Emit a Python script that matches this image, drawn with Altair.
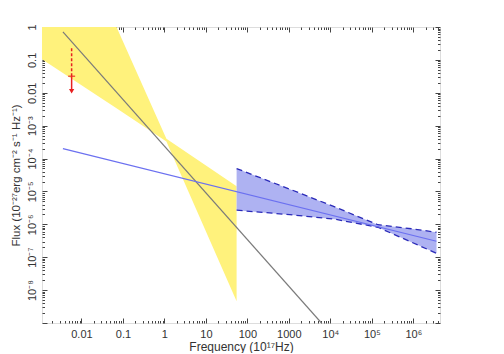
import json
import altair as alt
import pandas as pd

# ---------------- data ----------------
X_DOMAIN = [0.00112, 4.4e6]
Y_DOMAIN = [1e-9, 1.0]

x_label_values = [0.01, 0.1, 1, 10, 100, 1000, 1e4, 1e5, 1e6]
x_labels = ["0.01", "0.1", "1", "10", "100", "1000", "10⁴", "10⁵", "10⁶"]
y_label_values = [1e-8, 1e-7, 1e-6, 1e-5, 1e-4, 1e-3, 0.01, 0.1, 1]
y_labels = ["10⁻⁸", "10⁻⁷", "10⁻⁶", "10⁻⁵", "10⁻⁴", "10⁻³", "0.01", "0.1", "1"]

# yellow bow-tie (upper / lower envelope)
yellow_freq = [0.00112, 0.07, 1.117, 55.0]
yellow_hi = [1.0, 1.0, 4.0e-4, 1.44e-5]
yellow_lo = [0.104, 3.4e-3, 3.3e-4, 4.6e-9]

# blue bow-tie (upper / lower envelope)
blue_freq = [55.0, 1057, 12820, 139600, 906000, 3.62e6]
blue_hi = [4.97e-5, 1.17e-5, 3.38e-6, 9.72e-7, 7.35e-7, 5.75e-7]
blue_lo = [2.69e-6, 1.97e-6, 1.43e-6, 8.16e-7, 2.86e-7, 1.32e-7]

# best-fit power laws
gray_freq = [0.00358, 6100]
gray_flux = [0.714, 1.0e-9]
blueline_freq = [0.00358, 3.62e6]
blueline_flux = [2.01e-4, 3.06e-7]

# red upper limit
ul_freq = [0.0058]
ul_top = [0.225]
ul_bar = [0.0318]
ul_tip = [0.0111]

# ---------------- styling ----------------
W, H = 398, 296
FONT = "Liberation Sans"
TXT = "#333333"

x_major = [10.0 ** k for k in range(-2, 7)]
y_major = [10.0 ** k for k in range(-9, 1)]
x_minor = [m * 10.0 ** k for k in range(-3, 7) for m in range(2, 10)
           if X_DOMAIN[0] <= m * 10.0 ** k <= X_DOMAIN[1]]
y_minor = [m * 10.0 ** k for k in range(-9, 0) for m in range(2, 10)]

xs = alt.Scale(type="log", domain=X_DOMAIN, nice=False)
ys = alt.Scale(type="log", domain=Y_DOMAIN, nice=False)

x_label_axis = alt.Axis(
    orient="bottom", values=x_label_values,
    labelExpr=json.dumps(x_labels, ensure_ascii=False) + "[round(log(datum.value)/LN10)+2]",
    ticks=False, domain=False, grid=False, labelPadding=5, labelFontSize=11,
    labelFont=FONT, labelColor=TXT, labelFlush=False, labelOverlap=False,
    title="Frequency (10¹⁷Hz)", titleFont=FONT, titleFontSize=12,
    titleFontWeight="normal", titleColor=TXT, titlePadding=2)
y_label_axis = alt.Axis(
    orient="left", values=y_label_values,
    labelExpr=json.dumps(y_labels, ensure_ascii=False) + "[round(log(datum.value)/LN10)+8]",
    ticks=False, domain=False, grid=False, labelPadding=5, labelFontSize=11,
    labelAngle=270, labelFont=FONT, labelColor=TXT, labelFlush=False, labelOverlap=False,
    title="Flux (10⁻²⁷erg cm⁻² s⁻¹ Hz⁻¹)", titleFont=FONT, titleFontSize=11.5,
    titleFontWeight="normal", titleColor=TXT, titlePadding=5)


def tick_axis(orient, offset, values, size):
    return alt.Axis(orient=orient, offset=offset, values=values, labels=False,
                    domain=False, grid=False, title="", ticks=True, tickSize=size,
                    tickColor="#444444", tickWidth=1)


# ---------------- layers ----------------
yellow_df = pd.DataFrame({"freq": yellow_freq, "hi": yellow_hi, "lo": yellow_lo})
blue_df = pd.DataFrame({"freq": blue_freq, "hi": blue_hi, "lo": blue_lo})
gray_df = pd.DataFrame({"freq": gray_freq, "flux": gray_flux})
bline_df = pd.DataFrame({"freq": blueline_freq, "flux": blueline_flux})
bound_df = pd.concat([
    pd.DataFrame({"freq": blue_freq, "flux": blue_hi, "edge": "upper"}),
    pd.DataFrame({"freq": blue_freq, "flux": blue_lo, "edge": "lower"}),
])
ul_df = pd.DataFrame({"freq": ul_freq, "top": ul_top, "bar": ul_bar, "tip": ul_tip})

yellow = alt.Chart(yellow_df).mark_area(color="#fff27c", opacity=1, clip=True).encode(
    x=alt.X("freq:Q", scale=xs, axis=x_label_axis),
    y=alt.Y("hi:Q", scale=ys, axis=y_label_axis),
    y2="lo:Q",
)

blue_area = alt.Chart(blue_df).mark_area(color="#aeb2f2", opacity=1, clip=True).encode(
    x=alt.X("freq:Q", scale=xs, axis=tick_axis("top", -H, x_major, 5)),
    y=alt.Y("hi:Q", scale=ys, axis=tick_axis("right", -W, y_major, 5)),
    y2="lo:Q",
)

bounds = alt.Chart(bound_df).mark_line(color="#2a2ab8", strokeWidth=1.3,
                                       strokeDash=[6, 4], clip=True).encode(
    x=alt.X("freq:Q", scale=xs, axis=tick_axis("top", -H, x_minor, 2.5)),
    y=alt.Y("flux:Q", scale=ys, axis=tick_axis("right", -W, y_minor, 2.5)),
    detail="edge:N",
)

gray = alt.Chart(gray_df).mark_line(color="#7a7a7a", strokeWidth=1.2, clip=True).encode(
    x=alt.X("freq:Q", scale=xs, axis=tick_axis("bottom", -H, x_major, 5)),
    y=alt.Y("flux:Q", scale=ys, axis=tick_axis("left", -W, y_major, 5)),
)

bline = alt.Chart(bline_df).mark_line(color="#6b70f0", strokeWidth=1.2, clip=True).encode(
    x=alt.X("freq:Q", scale=xs, axis=tick_axis("bottom", -H, x_minor, 2.5)),
    y=alt.Y("flux:Q", scale=ys, axis=tick_axis("left", -W, y_minor, 2.5)),
)

ul_dash = alt.Chart(ul_df).mark_rule(color="#e82020", strokeWidth=1.5,
                                     strokeDash=[3, 2]).encode(
    x=alt.X("freq:Q", scale=xs, axis=None),
    y=alt.Y("top:Q", scale=ys, axis=None),
    y2="bar:Q",
)
ul_solid = alt.Chart(ul_df).mark_rule(color="#e82020", strokeWidth=1.5).encode(
    x=alt.X("freq:Q", scale=xs, axis=None),
    y=alt.Y("bar:Q", scale=ys, axis=None),
    y2="tip:Q",
)
ul_cap = alt.Chart(ul_df).mark_tick(color="#e82020", orient="horizontal",
                                    size=7, thickness=1.5).encode(
    x=alt.X("freq:Q", scale=xs, axis=None),
    y=alt.Y("bar:Q", scale=ys, axis=None),
)
ul_head = alt.Chart(ul_df).mark_point(shape="triangle-down", filled=True,
                                      color="#e82020", size=28, opacity=1).encode(
    x=alt.X("freq:Q", scale=xs, axis=None),
    y=alt.Y("tip:Q", scale=ys, axis=None),
)

chart = alt.layer(
    yellow, blue_area, bounds, gray, bline, ul_dash, ul_solid, ul_cap, ul_head
).resolve_axis(x="independent", y="independent").properties(
    width=W, height=H, autosize="none",
    padding={"left": 34, "top": 19, "right": 40, "bottom": 30},
).configure_view(stroke="#555555", strokeWidth=1).configure(background="white")

chart.save("out.html", embed_options={"renderer": "svg", "actions": False})
